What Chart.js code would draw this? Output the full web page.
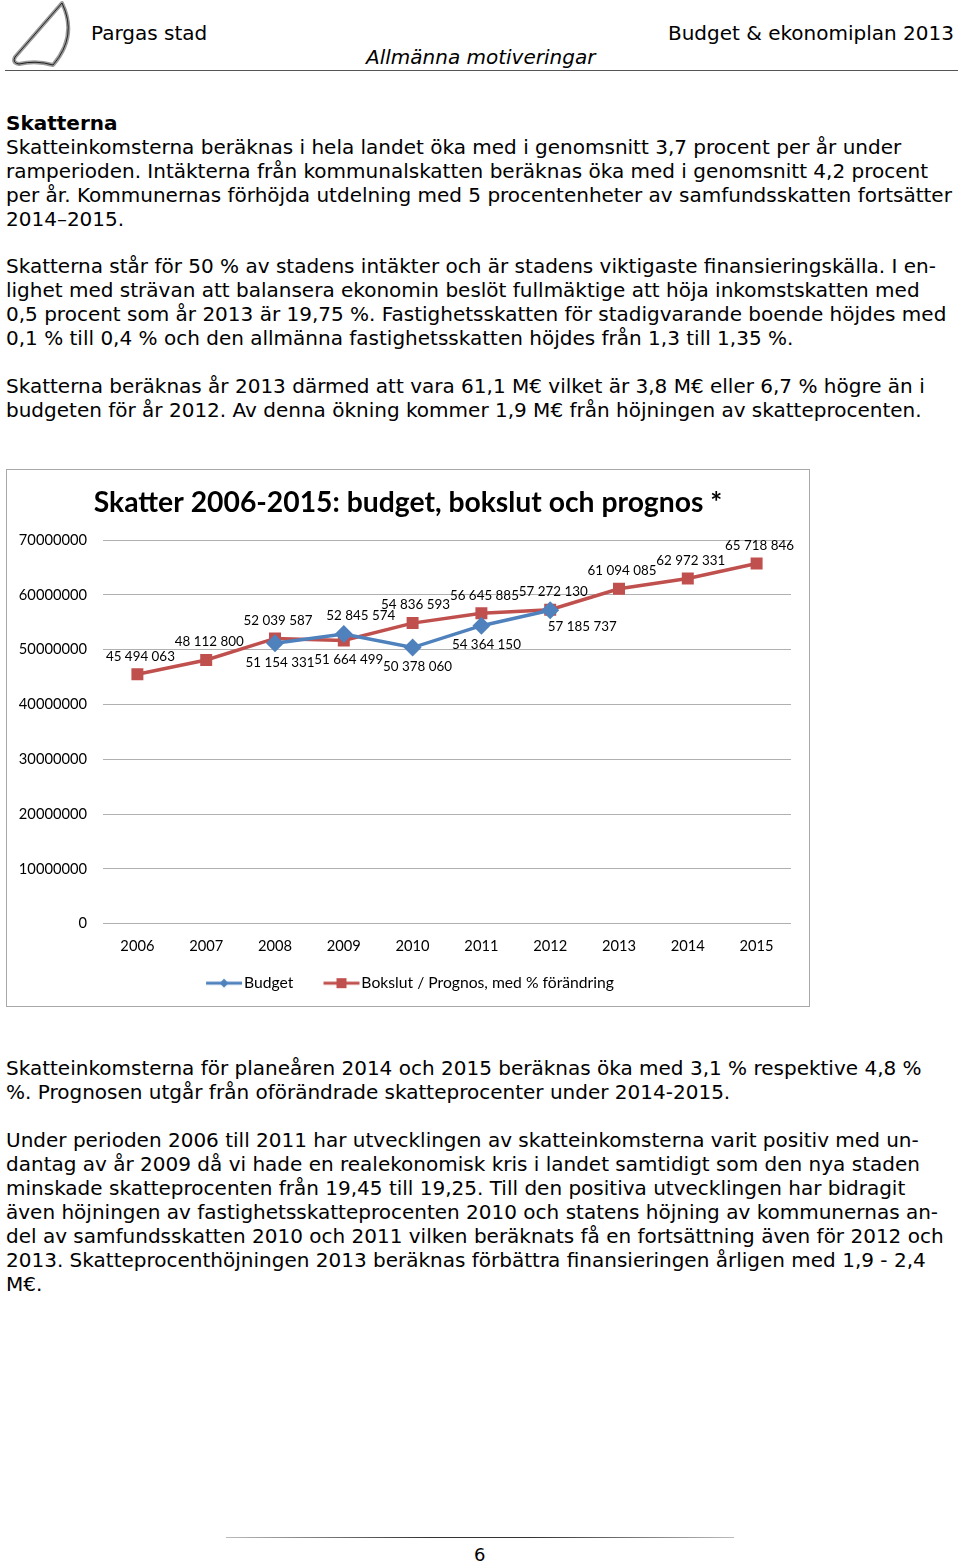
<!DOCTYPE html>
<html>
<head>
<meta charset="utf-8">
<script src="https://cdn.jsdelivr.net/npm/chart.js@4.4.0/dist/chart.umd.min.js"></script>
<style>
  body { margin: 0; background: #fff; width: 960px; height: 1564px; position: relative; overflow: hidden; }
  .t { position: absolute; font-family: "DejaVu Sans", Verdana, sans-serif; color: #000; white-space: nowrap; }
  .body { left: 6px; font-size: 20px; line-height: 24px; }
  #box { position: absolute; left: 6px; top: 469px; width: 802px; height: 536px; border: 1px solid #a8a8a8; }
</style>
</head>
<body>

<svg style="position:absolute;left:0;top:0" width="80" height="70" viewBox="0 0 80 70">
  <path d="M62 3 L15 57 Q12 63 19 64 Q36 60 53 65 Q78 36 62 3 Z" fill="#fff" stroke="#9a9a9a" stroke-width="4" stroke-linejoin="round"/>
  <path d="M62 3 L15 57 Q12 63 19 64 Q36 60 53 65 Q78 36 62 3 Z" fill="none" stroke="#222" stroke-width="1"/>
</svg>
<div class="t" style="left:91px;top:21px;font-size:20px;">Pargas stad</div>
<div class="t" style="right:6px;top:21px;font-size:20px;">Budget &amp; ekonomiplan 2013</div>
<div class="t" style="left:366px;top:45px;font-size:20px;font-style:italic;">Allmänna motiveringar</div>
<div style="position:absolute;left:5px;top:70px;width:953px;height:1px;background:#555;"></div>

<div class="t body" style="top:111px;"><b>Skatterna</b><br>Skatteinkomsterna beräknas i hela landet öka med i genomsnitt 3,7 procent per år under<br>ramperioden. Intäkterna från kommunalskatten beräknas öka med i genomsnitt 4,2 procent<br>per år. Kommunernas förhöjda utdelning med 5 procentenheter av samfundsskatten fortsätter<br>2014–2015.</div>

<div class="t body" style="top:254px;">Skatterna står för 50 % av stadens intäkter och är stadens viktigaste finansieringskälla. I en-<br>lighet med strävan att balansera ekonomin beslöt fullmäktige att höja inkomstskatten med<br>0,5 procent som år 2013 är 19,75 %. Fastighetsskatten för stadigvarande boende höjdes med<br>0,1 % till 0,4 % och den allmänna fastighetsskatten höjdes från 1,3 till 1,35 %.</div>

<div class="t body" style="top:374px;">Skatterna beräknas år 2013 därmed att vara 61,1 M€ vilket är 3,8 M€ eller 6,7 % högre än i<br>budgeten för år 2012. Av denna ökning kommer 1,9 M€ från höjningen av skatteprocenten.</div>

<div id="box"><canvas id="chart" width="802" height="536"></canvas></div>

<div class="t body" style="top:1056px;">Skatteinkomsterna för planeåren 2014 och 2015 beräknas öka med 3,1 % respektive 4,8 %<br>%. Prognosen utgår från oförändrade skatteprocenter under 2014-2015.</div>

<div class="t body" style="top:1128px;">Under perioden 2006 till 2011 har utvecklingen av skatteinkomsterna varit positiv med un-<br>dantag av år 2009 då vi hade en realekonomisk kris i landet samtidigt som den nya staden<br>minskade skatteprocenten från 19,45 till 19,25. Till den positiva utvecklingen har bidragit<br>även höjningen av fastighetsskatteprocenten 2010 och statens höjning av kommunernas an-<br>del av samfundsskatten 2010 och 2011 vilken beräknats få en fortsättning även för 2012 och<br>2013. Skatteprocenthöjningen 2013 beräknas förbättra finansieringen årligen med 1,9 - 2,4<br>M€.</div>

<div style="position:absolute;left:226px;top:1537px;width:508px;height:1px;background:linear-gradient(90deg,#bbb,#333 40%,#333 60%,#bbb);"></div>
<div class="t" style="left:474px;top:1544px;font-size:18px;">6</div>

<script>
const years = ['2006', '2007', '2008', '2009', '2010', '2011', '2012', '2013', '2014', '2015'];
const budget = [null, null, 51154331, 52845574, 50378060, 54364150, 57185737, null, null, null];
const bokslut = [45494063, 48112800, 52039587, 51664499, 54836593, 56645885, 57272130, 61094085, 62972331, 65718846];
const yTicks = [0, 10000000, 20000000, 30000000, 40000000, 50000000, 60000000, 70000000];

// where each value label sits relative to its point
const budgetLabelPos = [null, null, 'below', 'aboveRight', 'below', 'below', 'belowRight', null, null, null];
const bokslutLabelPos = ['above', 'above', 'above', 'below', 'above', 'above', 'above', 'above', 'above', 'above'];

const FONT = 'Lato, "DejaVu Sans Condensed", sans-serif';
const BLUE = '#4f81bd';
const RED = '#c0504d';

function fmt(v) {
  return String(v).replace(/\B(?=(\d{3})+(?!\d))/g, ' ');
}

// pick a font size so that a sample text gets the given width
const probe = document.createElement('canvas').getContext('2d');
function fitSize(text, weight, width) {
  probe.font = weight + ' 100px ' + FONT;
  return Math.round(100 * width / probe.measureText(text).width * 10) / 10;
}
const titleSize = fitSize('Skatter 2006-2015: budget, bokslut och prognos *', 'bold', 628);
const tickSize = fitSize('70000000', 'normal', 68);
const labelSize = fitSize('45 494 063', 'normal', 69);
const legendSize = fitSize('Bokslut / Prognos, med % förändring', 'normal', 252);

const titlePadTop = 33 - 0.6 * titleSize;
const titlePadBottom = 70 - titlePadTop - 1.2 * titleSize;
const legendBoxW = 62 - legendSize / 2;

// the legend is centred on its items; a little trailing space pulls it left like the original
probe.font = legendSize + 'px ' + FONT;
const legendTail = '\u00a0'.repeat(Math.round(20 / probe.measureText('\u00a0').width));

// line with marker; drawn in the right part so it sits just before the text
function legendIcon(color, style) {
  const c = document.createElement('canvas');
  c.width = 68; c.height = 14;
  const ctx = c.getContext('2d');
  ctx.strokeStyle = color; ctx.lineWidth = 3;
  ctx.beginPath(); ctx.moveTo(31, 7); ctx.lineTo(67, 7); ctx.stroke();
  ctx.fillStyle = color;
  if (style === 'rect') {
    ctx.fillRect(44, 2, 10, 10);
  } else {
    ctx.beginPath(); ctx.moveTo(49, 2.5); ctx.lineTo(53.5, 7); ctx.lineTo(49, 11.5); ctx.lineTo(44.5, 7); ctx.closePath(); ctx.fill();
  }
  return c;
}

const offsets = {
  above: [3, -18], below: [5, 19], aboveRight: [17, -18], belowRight: [32, 16]
};

const valueLabels = {
  id: 'valueLabels',
  afterDatasetsDraw(chart) {
    const ctx = chart.ctx;
    const places = [budgetLabelPos, bokslutLabelPos];
    ctx.save();
    ctx.font = labelSize + 'px ' + FONT;
    ctx.fillStyle = '#000';
    ctx.textAlign = 'center';
    ctx.textBaseline = 'middle';
    chart.data.datasets.forEach((ds, i) => {
      const meta = chart.getDatasetMeta(i);
      meta.data.forEach((pt, j) => {
        const v = ds.data[j];
        if (v == null) return;
        const [dx, dy] = offsets[places[i][j]];
        ctx.fillText(fmt(v), pt.x + dx, pt.y + dy);
      });
    });
    ctx.restore();
  }
};

new Chart(document.getElementById('chart'), {
  type: 'line',
  data: {
    labels: years,
    datasets: [{
      label: 'Budget',
      data: budget,
      borderColor: BLUE,
      backgroundColor: BLUE,
      borderWidth: 3.5,
      pointStyle: 'rectRot',
      pointRadius: 6.5,
      pointHoverRadius: 6.5,
      tension: 0
    }, {
      label: 'Bokslut / Prognos, med % förändring',
      data: bokslut,
      borderColor: RED,
      backgroundColor: RED,
      borderWidth: 3.5,
      pointStyle: 'rect',
      pointRadius: 6,
      pointHoverRadius: 6,
      tension: 0
    }]
  },
  options: {
    responsive: false,
    animation: false,
    events: [],
    layout: { padding: { left: 9, right: 9, top: 0, bottom: 5 } },
    plugins: {
      title: {
        display: true,
        text: 'Skatter 2006-2015: budget, bokslut och prognos *',
        color: '#000',
        font: { family: FONT, size: titleSize, weight: 'bold' },
        padding: { top: titlePadTop, bottom: titlePadBottom }
      },
      legend: {
        position: 'bottom',
        labels: {
          color: '#000',
          font: { family: FONT, size: legendSize },
          usePointStyle: true,
          pointStyleWidth: legendBoxW,
          padding: 6,
          generateLabels(chart) {
            const n = chart.data.datasets.length;
            return chart.data.datasets.map((ds, i) => ({
              text: i === n - 1 ? ds.label + legendTail : ds.label,
              pointStyle: legendIcon(ds.borderColor, ds.pointStyle),
              fillStyle: ds.borderColor,
              strokeStyle: ds.borderColor,
              lineWidth: 0,
              datasetIndex: i,
              fontColor: '#000'
            }));
          }
        }
      },
      tooltip: { enabled: false }
    },
    scales: {
      x: {
        offset: true,
        grid: { display: false, drawTicks: false },
        border: { display: false },
        ticks: { color: '#000', font: { family: FONT, size: tickSize }, padding: 14, maxRotation: 0 }
      },
      y: {
        min: 0,
        max: 70000000,
        afterBuildTicks(scale) { scale.ticks = yTicks.map(v => ({ value: v })); },
        afterFit(scale) { scale.width = 87; },
        grid: { color: '#b0b0b0', lineWidth: 1, drawTicks: false },
        border: { display: false },
        ticks: { color: '#000', font: { family: FONT, size: tickSize }, padding: 16, callback: v => String(v) }
      },
      // empty strip on the right, keeps the plot where it is in the original
      yRight: {
        position: 'right',
        min: 0,
        max: 70000000,
        afterFit(scale) { scale.width = 9; },
        grid: { display: false, drawTicks: false },
        border: { display: false },
        ticks: { display: false }
      }
    }
  },
  plugins: [valueLabels]
});
</script>
</body>
</html>
